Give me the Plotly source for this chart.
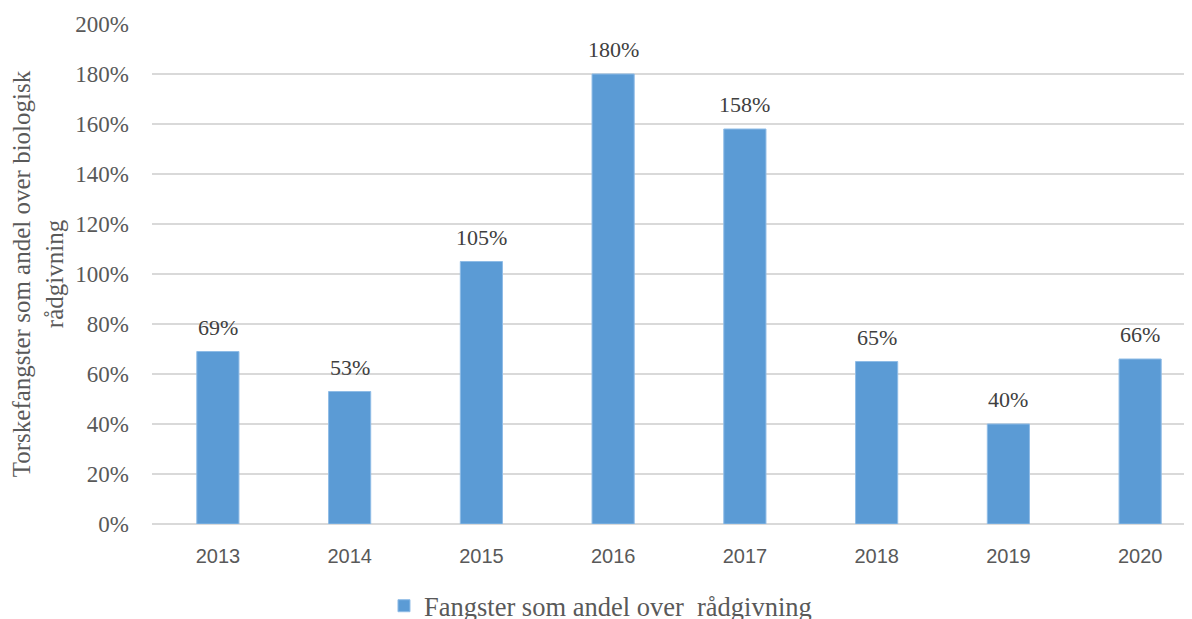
import plotly.graph_objects as go

years = ["2013", "2014", "2015", "2016", "2017", "2018", "2019", "2020"]
values = [0.69, 0.53, 1.05, 1.80, 1.58, 0.65, 0.40, 0.66]
labels = ["69%", "53%", "105%", "180%", "158%", "65%", "40%", "66%"]
series_name = "Fangster som andel over  rådgivning"
y_ticks = [0, 0.2, 0.4, 0.6, 0.8, 1.0, 1.2, 1.4, 1.6, 1.8, 2.0]
y_tick_text = ["0%", "20%", "40%", "60%", "80%", "100%", "120%", "140%", "160%", "180%", "200%"]

serif = "Liberation Serif, Times New Roman, serif"
sans = "Liberation Sans, Arial, sans-serif"

fig = go.Figure()
fig.add_trace(go.Bar(
    x=years, y=values, name=series_name,
    marker=dict(color="#5b9bd5", line=dict(color="#8fbce6", width=1)),
))

# category axis: annotation x given as category serial index
for i, (v, lab) in enumerate(zip(values, labels)):
    fig.add_annotation(x=i, y=v, xref="x", yref="y", text=lab, showarrow=False,
                       yanchor="bottom", yshift=10,
                       font=dict(family=serif, size=22, color="#404040"))

fig.update_layout(
    width=1200, height=611,
    margin=dict(l=144, r=2, t=16, b=95, autoexpand=False),
    paper_bgcolor="white", plot_bgcolor="white",
    bargap=0.68,
    showlegend=True,
    legend=dict(orientation="h", x=0.4255, xanchor="center",
                y=-0.164, yanchor="middle",
                font=dict(family=serif, size=26.5, color="#595959"),
                itemwidth=30),
)
fig.update_yaxes(
    range=[0, 2.0], tickvals=y_ticks, ticktext=y_tick_text,
    showgrid=True, gridcolor="#d9d9d9", gridwidth=1.5,
    zeroline=True, zerolinecolor="#d9d9d9", zerolinewidth=1.5,
    showline=False, ticks="", ticklabelstandoff=22, automargin=False,
    tickfont=dict(family=serif, size=23, color="#595959"),
    title=dict(text="Torskefangster som andel over biologisk<br>rådgivning",
               font=dict(family=serif, size=25, color="#595959"), standoff=17),
)
fig.update_xaxes(
    type="category", categoryorder="array", categoryarray=years,
    range=[-0.5, len(years) - 0.5],
    showgrid=False, showline=False, ticks="", ticklabelstandoff=18, automargin=False,
    tickangle=0,
    tickfont=dict(family=sans, size=20, color="#595959"),
)

fig.write_html("out.html")
